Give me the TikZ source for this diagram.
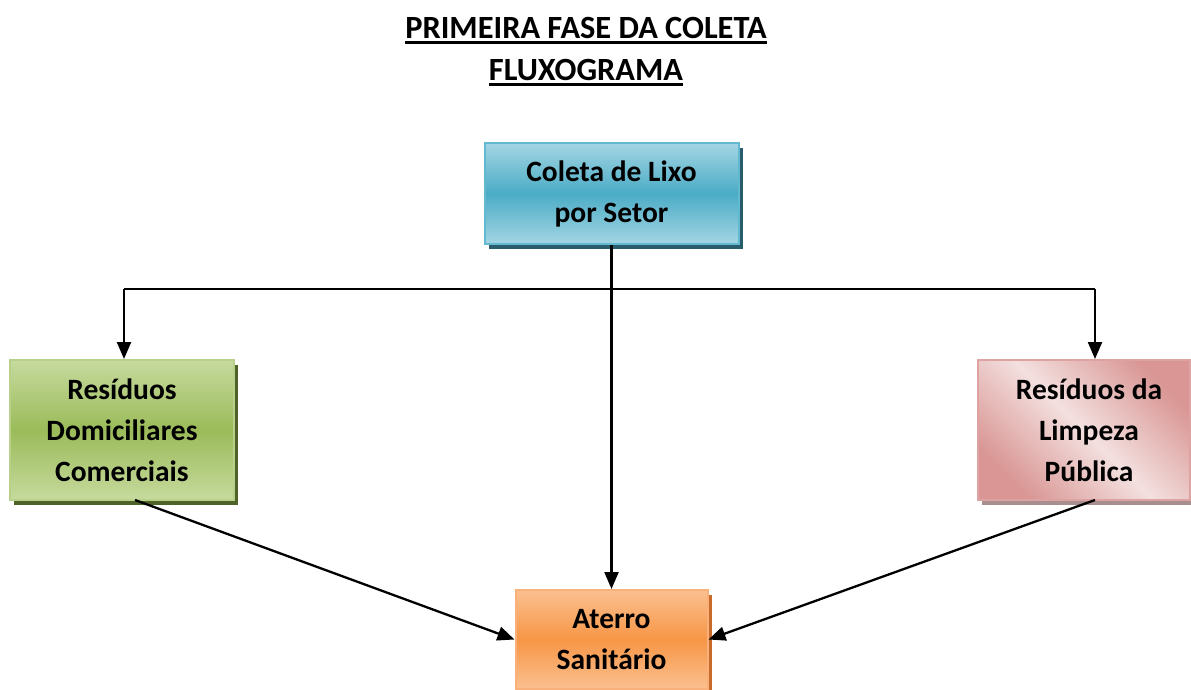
\documentclass[tikz,border=0pt]{standalone}
\usepackage{fontspec}
\setmainfont{Carlito}
\usetikzlibrary{arrows.meta,shadows}
\definecolor{tealL}{HTML}{A3D5E3}
\definecolor{tealM}{HTML}{4BACC6}
\definecolor{tealB}{HTML}{62B9D0}
\definecolor{tealS}{HTML}{2A5D6B}
\definecolor{grnL}{HTML}{C6DA9E}
\definecolor{grnM}{HTML}{9BBB59}
\definecolor{grnB}{HTML}{B8D08A}
\definecolor{grnS}{HTML}{4F6228}
\definecolor{pnkL}{HTML}{F3E0DF}
\definecolor{pnkD}{HTML}{D99694}
\definecolor{pnkB}{HTML}{DDA3A2}
\definecolor{pnkS}{HTML}{A88E8F}
\definecolor{orL}{HTML}{FAC090}
\definecolor{orM}{HTML}{F79646}
\definecolor{orB}{HTML}{F9B07A}
\definecolor{orS}{HTML}{C86A2A}
\newlength{\ulwd}
\newcommand{\myul}[1]{\settowidth{\ulwd}{#1}\leavevmode\rlap{\rule[-5.5pt]{\ulwd}{2.4pt}}#1}
\begin{document}
\begin{tikzpicture}[x=1pt,y=-1pt,
  box/.style={rectangle, line width=2pt, align=center, inner sep=0pt,
    font=\bfseries\fontsize{29.5}{41}\selectfont},
  conn/.style={line width=2.3pt, -{Triangle[length=17pt,width=14pt]}},
  plain/.style={line width=2.3pt}]
\useasboundingbox (0,0) rectangle (1191,689);
\node[font=\bfseries\fontsize{32.4}{42}\selectfont, align=center, anchor=base] (t1) at (586,38) {\myul{PRIMEIRA FASE DA COLETA}};
\node[font=\bfseries\fontsize{32.4}{42}\selectfont, align=center, anchor=base] (t2) at (586,80) {\myul{FLUXOGRAMA}};

\node[box, minimum width=254pt, minimum height=101pt, draw=tealB,
  top color=tealL, bottom color=tealL, middle color=tealM,
  drop shadow={shadow xshift=4pt, shadow yshift=-5pt, fill=tealS, opacity=1}]
  (top) at (611.5,193.5) {Coleta de Lixo\\por Setor};

\node[box, minimum width=224pt, minimum height=140pt, draw=grnB,
  top color=grnL, bottom color=grnL, middle color=grnM,
  drop shadow={shadow xshift=4pt, shadow yshift=-5pt, fill=grnS, opacity=1}]
  (left) at (122,430) {Resíduos\\Domiciliares\\Comerciais};

\node[box, minimum width=212pt, minimum height=140pt, draw=pnkB,
  top color=pnkD, bottom color=pnkD, middle color=pnkL, shading angle=-45,
  drop shadow={shadow xshift=4pt, shadow yshift=-5pt, fill=pnkS, opacity=1}]
  (right) at (1084,430) {\hspace*{10pt}Resíduos da\\\hspace*{10pt}Limpeza\\\hspace*{10pt}Pública};

\node[box, minimum width=192pt, minimum height=99pt, draw=orB,
  top color=orL, bottom color=orL, middle color=orM,
  drop shadow={shadow xshift=4pt, shadow yshift=-5pt, fill=orS, opacity=1}]
  (bot) at (611.5,639.5) {Aterro\\Sanitário};

\coordinate (hl) at (124,289);
\coordinate (hr) at (1095,289);
\draw[plain] (hl) -- (hr);
\draw[conn] (top.south) -- (bot.north);
\draw[conn] (hl) -- (left.north -| hl);
\draw[conn] (hr) -- (right.north -| hr);
\draw[conn] (135,500) coordinate (ls) -- (bot.west);
\draw[conn] (1095,500) coordinate (rs) -- (bot.east);
\end{tikzpicture}
\end{document}
